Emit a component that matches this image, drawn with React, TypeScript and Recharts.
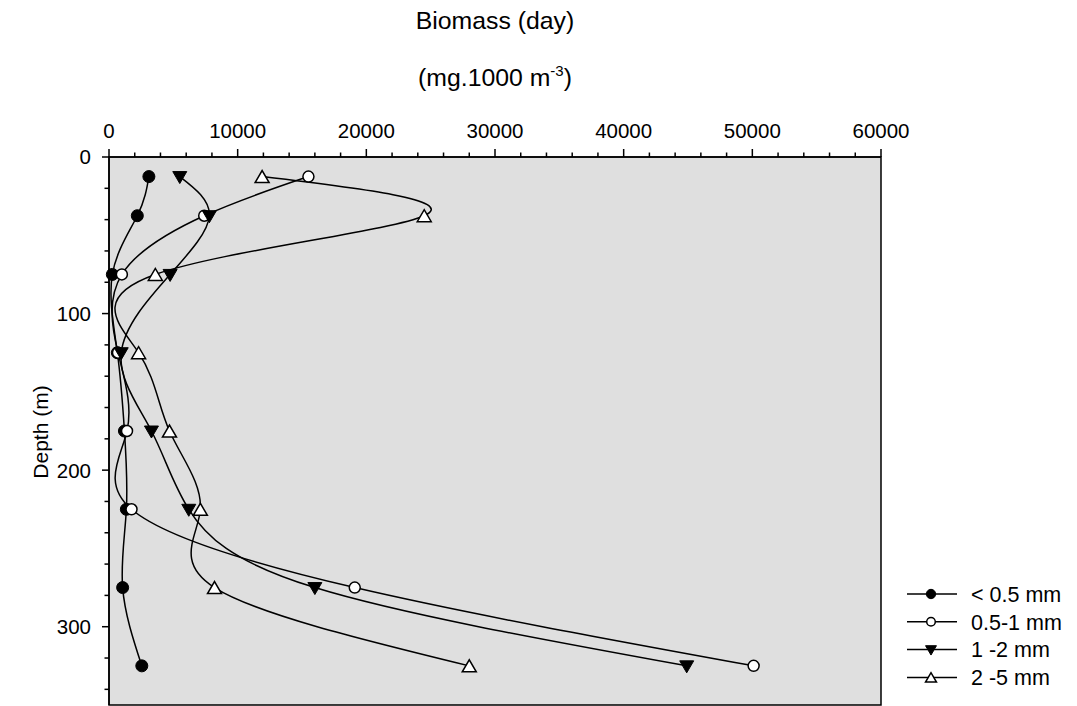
import React from 'react';
import { LineChart, Line, XAxis, YAxis, ReferenceArea } from 'recharts';

// Sampling depths (m) and biomass per size class (mg.1000 m^-3)
const depths = [12.5, 37.5, 75, 125, 175, 225, 275, 325];
const below05 = [3100, 2200, 260, 650, 1200, 1350, 1060, 2550];
const from05to1 = [15500, 7400, 1000, 700, 1400, 1750, 19100, 50100];
const from1to2 = [5500, 7800, 4750, 950, 3300, 6200, 16000, 44900];
const from2to5 = [11900, 24500, 3600, 2300, 4700, 7100, 8200, 28000];

const seriesNames = ['< 0.5 mm', '0.5-1 mm', '1 -2 mm', '2 -5 mm'];
const seriesKeys = ['s1', 's2', 's3', 's4'];
const seriesMarkers = ['dot', 'ring', 'down', 'up'];

const xMajorTicks = [0, 10000, 20000, 30000, 40000, 50000, 60000];
const xMinorStep = 2000;
const yMajorTicks = [0, 100, 200, 300];
const yMinorStep = 20;

const data = depths.map((depth, i) => ({
  depth,
  s1: below05[i],
  s2: from05to1[i],
  s3: from1to2[i],
  s4: from2to5[i],
}));

const xTicks: number[] = [];
for (let v = 0; v <= 60000; v += xMinorStep) xTicks.push(v);
const yTicks: number[] = [];
for (let v = 0; v <= 340; v += yMinorStep) yTicks.push(v);

const FONT = '"Liberation Sans", Arial, Helvetica, sans-serif';

function Marker({ kind, cx, cy, scale = 1 }: { kind: string; cx: number; cy: number; scale?: number }) {
  const s = scale;
  if (kind === 'dot') return <circle cx={cx} cy={cy} r={6 * s} fill="#000" stroke="#000" strokeWidth={1} />;
  if (kind === 'ring') return <circle cx={cx} cy={cy} r={5.5 * s} fill="#fff" stroke="#000" strokeWidth={1.5} />;
  if (kind === 'down') {
    const pts = `${cx - 7 * s},${cy - 5 * s} ${cx + 7 * s},${cy - 5 * s} ${cx},${cy + 7 * s}`;
    return <polygon points={pts} fill="#000" stroke="#000" strokeWidth={1} />;
  }
  const pts = `${cx - 7 * s},${cy + 6 * s} ${cx + 7 * s},${cy + 6 * s} ${cx},${cy - 6 * s}`;
  return <polygon points={pts} fill="#fff" stroke="#000" strokeWidth={1.5} />;
}

const makeDot = (kind: string) => (props: any) => {
  const { cx, cy, index } = props;
  if (cx == null || cy == null) return <g key={`e-${kind}-${index}`} />;
  return <Marker key={`m-${kind}-${index}`} kind={kind} cx={cx} cy={cy} />;
};

const XTick = (props: any) => {
  const { x, y, payload } = props;
  const major = xMajorTicks.includes(payload.value);
  const len = major ? 8 : 4.5;
  return (
    <g>
      <line x1={x} x2={x} y1={y} y2={y - len} stroke="#000" strokeWidth={1.5} />
      {major && (
        <text x={x} y={y - 19} textAnchor="middle" fontSize={20.5} fontFamily={FONT} fill="#000">
          {payload.value}
        </text>
      )}
    </g>
  );
};

const YTick = (props: any) => {
  const { x, y, payload } = props;
  const major = yMajorTicks.includes(payload.value);
  const len = major ? 7 : 4.5;
  return (
    <g>
      <line x1={x} x2={x - len} y1={y} y2={y} stroke="#000" strokeWidth={1.5} />
      {major && (
        <text x={x - 18} y={y} dy="0.36em" textAnchor="end" fontSize={20.5} fontFamily={FONT} fill="#000">
          {payload.value}
        </text>
      )}
    </g>
  );
};

export default function App() {
  return (
    <div style={{ position: 'absolute', left: 0, top: 0, width: 1077, height: 706, background: '#fff' }}>
      <LineChart
        width={1077}
        height={706}
        data={data}
        layout="vertical"
        margin={{ top: 117, right: 196, bottom: 1, left: 49 }}
      >
        <XAxis
          type="number"
          orientation="top"
          domain={[0, 60000]}
          ticks={xTicks}
          interval={0}
          height={40}
          tickSize={0}
          tickMargin={0}
          tickLine={false}
          axisLine={{ stroke: '#000', strokeWidth: 1.5 }}
          tick={<XTick />}
        />
        <YAxis
          type="number"
          dataKey="depth"
          domain={[0, 350]}
          ticks={yTicks}
          interval={0}
          width={60}
          tickSize={0}
          tickMargin={0}
          tickLine={false}
          axisLine={{ stroke: '#000', strokeWidth: 1.5 }}
          tick={<YTick />}
        />
        <ReferenceArea
          x1={0}
          x2={60000}
          y1={0}
          y2={350}
          fill="#dfdfdf"
          fillOpacity={1}
          stroke="#000"
          strokeWidth={1.5}
        />
        {seriesKeys.map((k, i) => (
          <Line
            key={k}
            dataKey={k}
            type="natural"
            stroke="#000"
            strokeWidth={1.5}
            dot={makeDot(seriesMarkers[i])}
            activeDot={false}
            isAnimationActive={false}
          />
        ))}
      </LineChart>
      <svg
        width={1077}
        height={706}
        style={{ position: 'absolute', left: 0, top: 0, pointerEvents: 'none' }}
      >
        <text x={495} y={28.5} textAnchor="middle" fontSize={24.8} fontFamily={FONT} fill="#000">
          Biomass (day)
        </text>
        <text x={495} y={86} textAnchor="middle" fontSize={24.8} fontFamily={FONT} fill="#000">
          (mg.1000 m
          <tspan fontSize={15} dy={-10}>-3</tspan>
          <tspan dy={10}>)</tspan>
        </text>
        <text
          x={48}
          y={432}
          textAnchor="middle"
          fontSize={21}
          fontFamily={FONT}
          fill="#000"
          transform="rotate(-90 48 432)"
        >
          Depth (m)
        </text>
        {seriesNames.map((name, i) => {
          const cy = 594 + i * 27.8;
          return (
            <g key={name}>
              <line x1={907} x2={957} y1={cy} y2={cy} stroke="#000" strokeWidth={1.5} />
              <Marker kind={seriesMarkers[i]} cx={931} cy={cy} scale={0.78} />
              <text x={971} y={cy} dy="0.36em" fontSize={21.5} fontFamily={FONT} fill="#000">
                {name}
              </text>
            </g>
          );
        })}
      </svg>
    </div>
  );
}
